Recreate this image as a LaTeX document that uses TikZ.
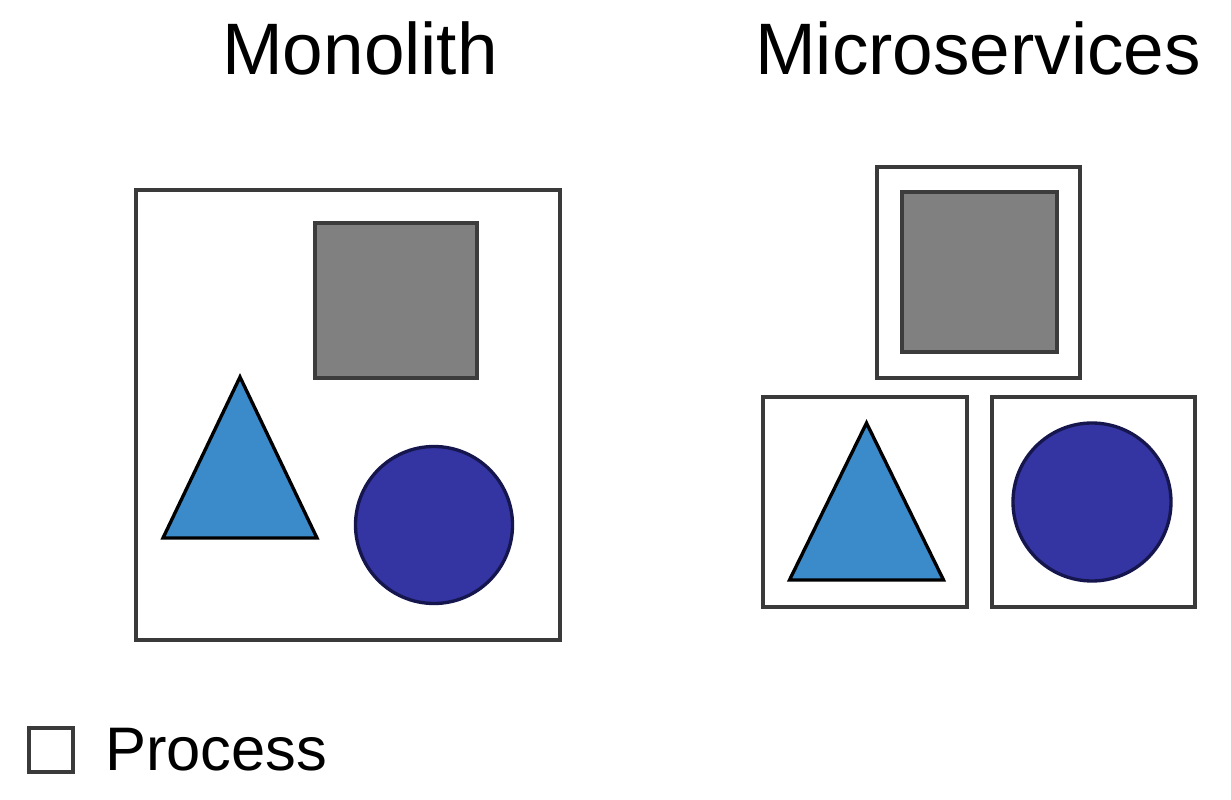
\documentclass[tikz,border=0pt]{standalone}
\usepackage{fontspec}
\setmainfont{Liberation Sans}
\usepackage{tikz}
\usetikzlibrary{positioning}
\definecolor{sqgray}{HTML}{808080}
\definecolor{sqedge}{HTML}{3C3C3C}
\definecolor{triblue}{HTML}{3B8ACA}
\definecolor{cirblue}{HTML}{3434A2}
\definecolor{ciredge}{HTML}{16164E}
\definecolor{boxedge}{HTML}{3A3A3A}
\newdimen\pxu \pxu=0.02cm
\tikzset{
  procbox/.style = {draw=boxedge, line width=2.1pt, fill=white, inner sep=0pt},
  sqshape/.style = {draw=sqedge, line width=2.6pt, fill=sqgray, inner sep=0pt},
  cirshape/.style = {circle, draw=ciredge, line width=1.9pt, fill=cirblue, inner sep=0pt},
  trishape/.style = {draw=black, line width=1.9pt, fill=triblue, line join=miter},
  title/.style   = {font=\fontsize{41.5}{48}\selectfont, anchor=base},
}

\begin{document}
\begin{tikzpicture}[x=0.02cm, y=-0.02cm]
  \useasboundingbox (0,0) rectangle (1231,800);
  % titles
  \node[title] (monotitle) at (360,75) {Monolith};
  \node[title] (microtitle) at (978,75) {Microservices};
  % monolith: one process holding all three parts
  \node[procbox, minimum width=424\pxu, minimum height=450\pxu] (mono) at (348,415) {};
  \node[sqshape, minimum width=162\pxu, minimum height=155\pxu] (mgray) at (396,300.5) {};
  \node[cirshape, minimum size=157\pxu] (mcirc) at (434,525) {};
  \coordinate (mtri) at (240,538);
  \draw[trishape] (mtri) ++(-77,0) -- ++(77,-161) -- ++(77,161) -- cycle;
  % microservices: one process per part
  \node[procbox, minimum width=203\pxu, minimum height=211\pxu] (utop) at (978.5,272.5) {};
  \node[sqshape, minimum width=155\pxu, minimum height=160\pxu] (ugray) at (979.5,272) {};
  \node[procbox, minimum width=204\pxu, minimum height=210\pxu] (uleft) at (865,502) {};
  \node[procbox, minimum width=203\pxu, minimum height=210\pxu] (uright) at (1093.5,502) {};
  \node[cirshape, minimum size=158\pxu] (ucirc) at (1092,502) {};
  \coordinate (utri) at (866.5,580);
  \draw[trishape] (utri) ++(-77,0) -- ++(77,-157) -- ++(77,157) -- cycle;
  % legend
  \node[procbox, minimum size=44\pxu] (legbox) at (51,750) {};
  \node[font=\fontsize{35}{40}\selectfont, right=17pt of legbox, inner sep=0pt] (legtext) {Process};
\end{tikzpicture}
\end{document}
